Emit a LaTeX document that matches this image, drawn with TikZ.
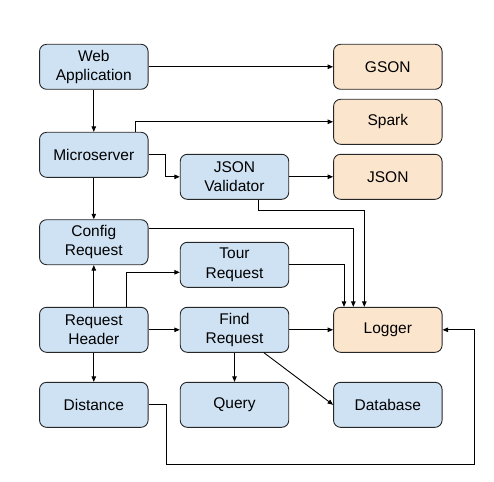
\documentclass[tikz,border=0pt]{standalone}
\usepackage{fontspec}
\setmainfont{Liberation Sans}
\usetikzlibrary{arrows.meta}
\definecolor{bluefill}{HTML}{CFE2F3}
\definecolor{orangefill}{HTML}{FCE5CD}
\tikzset{
  box/.style={draw=black!85, line width=0.9pt, rounded corners=7pt, minimum width=108.5pt, minimum height=45pt, inner sep=0pt, align=center, font=\fontsize{15.5}{19.3}\selectfont},
  bluebox/.style={box, fill=bluefill},
  orangebox/.style={box, fill=orangefill},
  conn/.style={draw=black, line width=0.9pt, -{Triangle[length=5.5pt,width=4.5pt]}}
}
\begin{document}
\begin{tikzpicture}[x=1pt,y=-1pt]
\useasboundingbox (0,0) rectangle (494,481);
\node[bluebox] (web) at (93.8,66.8) {Web\\Application};
\node[bluebox] (micro) at (93.8,154.8) {Microserver};
\node[bluebox] (config) at (93.8,242.2) {Config\\Request};
\node[bluebox] (header) at (93.8,329.8) {Request\\Header};
\node[bluebox] (distance) at (93.8,404.8) {Distance};
\node[bluebox] (jsonv) at (234.5,176.8) {JSON\\Validator};
\node[bluebox] (tour) at (234.5,264.8) {Tour\\Request};
\node[bluebox] (find) at (234.5,329.8) {Find\\Request};
\node[bluebox] (query) at (234.5,404.8) {Query};
\node[orangebox] (gson) at (387.8,66.8) {GSON};
\node[orangebox] (spark) at (387.8,121.8) {Spark};
\node[orangebox] (json) at (387.8,176.8) {JSON};
\node[orangebox] (logger) at (387.8,329.8) {Logger};
\node[bluebox] (database) at (387.8,404.8) {Database};

\draw[conn] (web) -- (gson);
\draw[conn] (web) -- (micro);
\draw[conn] ([xshift=-13pt]micro.north east) |- (spark);
\draw[conn] (micro.east) -- ++(17,0) |- (jsonv);
\draw[conn] (jsonv) -- (json);
\draw[conn] (micro) -- (config);
\draw[conn] ([xshift=23.8pt]jsonv.south) -- ++(0,10.7) -| ([xshift=-23.5pt]logger.north);
\draw[conn] ([yshift=14pt]config.east) -| ([xshift=-34.5pt]logger.north);
\draw[conn] (tour) -| ([xshift=-43.8pt]logger.north);
\draw[conn] (header) -- (config);
\draw[conn] ([xshift=33pt]header.north) |- ([yshift=-7.5pt]tour.west);
\draw[conn] (header) -- (find);
\draw[conn] (find) -- (logger);
\draw[conn] (header) -- (distance);
\draw[conn] (find) -- (query);
\draw[conn] ([xshift=29.5pt]find.south) -- (database.west);
\draw[conn] (distance.east) -- ++(17.7,0) -- ++(0,59.5) -| ([xshift=32pt]logger.east) -- (logger.east);
\end{tikzpicture}
\end{document}
